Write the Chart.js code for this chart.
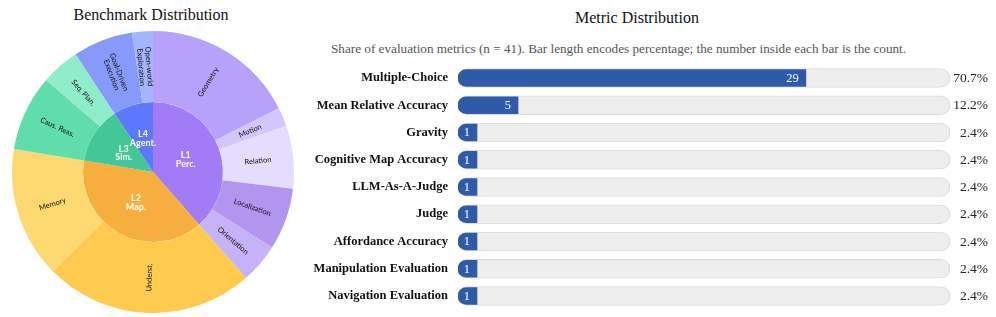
<!DOCTYPE html>
<html><head><meta charset="utf-8">
<script src="https://cdn.jsdelivr.net/npm/chart.js@4.4.1/dist/chart.umd.min.js"></script>
<style>
html,body{margin:0;padding:0;background:#fff;}
body{width:996px;height:317px;position:relative;overflow:hidden;font-family:"Liberation Serif","Times New Roman",serif;}
.t{position:absolute;white-space:nowrap;color:#111;line-height:18px;}
#t1{left:0;width:302px;top:6px;text-align:center;font-size:16px;}
#t2{left:575px;top:9px;font-size:16px;}
#sub{left:331px;top:41px;font-size:13.2px;color:#555;line-height:16px;}
#c1{position:absolute;left:12px;top:31px;}
#c2{position:absolute;left:300px;top:0;}
</style></head>
<body>
<div class="t" id="t1">Benchmark Distribution</div>
<div class="t" id="t2">Metric Distribution</div>
<div class="t" id="sub">Share of evaluation metrics (n = 41). Bar length encodes percentage; the number inside each bar is the count.</div>
<canvas id="c1" width="282" height="282"></canvas>
<canvas id="c2" width="696" height="330"></canvas>
<script>
// ---- Benchmark sunburst data (share of benchmarks, %) ----
const levelNames = ['L1\nPerc.', 'L2\nMap.', 'L3\nSim.', 'L4\nAgent.'];
const levelShares = [38.56, 39.06, 13.13, 9.25];
const levelColors = ['#A27CF6', '#F6AF3C', '#43C797', '#5C78FC'];

const subNames = ['Geometry', 'Motion', 'Relation', 'Localization', 'Orientation',
  'Underst.', 'Memory', 'Caus. Reas.', 'Seq. Plan.', 'Goal-Driven\nExecution', 'Open-world\nExploration'];
const subShares = [17.53, 2.19, 7.17, 7.11, 4.56, 24.0, 15.06, 8.69, 4.44, 6.86, 2.39];
const subColors = ['#B7A1FA', '#D3C6FC', '#E4DDFE', '#B295EE', '#C6B2F6',
  '#FECB4F', '#FED870', '#5FDDAB', '#90EDC9', '#8899FC', '#A4B4FD'];

// ---- Metric distribution data ----
const metricNames = ['Multiple-Choice', 'Mean Relative Accuracy', 'Gravity', 'Cognitive Map Accuracy',
  'LLM-As-A-Judge', 'Judge', 'Affordance Accuracy', 'Manipulation Evaluation', 'Navigation Evaluation'];
const metricCounts = [29, 5, 1, 1, 1, 1, 1, 1, 1];
const metricShares = [70.7, 12.2, 2.4, 2.4, 2.4, 2.4, 2.4, 2.4, 2.4];
const metricShareLabels = ['70.7%', '12.2%', '2.4%', '2.4%', '2.4%', '2.4%', '2.4%', '2.4%', '2.4%'];
const trackFull = [100, 100, 100, 100, 100, 100, 100, 100, 100];

const sunLabels = {
  id: 'sunLabels',
  afterDatasetsDraw(chart) {
    const ctx = chart.ctx;
    chart.data.datasets.forEach((ds, di) => {
      const meta = chart.getDatasetMeta(di);
      meta.data.forEach((arc, i) => {
        const p = arc.getProps(['x', 'y', 'startAngle', 'endAngle', 'innerRadius', 'outerRadius'], true);
        const mid = (p.startAngle + p.endAngle) / 2;
        const lines = (di === 0 ? subNames[i] : levelNames[i]).split('\n');
        ctx.save();
        let lh;
        if (di === 0) {
          const r = (p.innerRadius + p.outerRadius) / 2;
          ctx.translate(p.x + Math.cos(mid) * r, p.y + Math.sin(mid) * r);
          let rot = mid;
          if (rot > Math.PI / 2) rot -= Math.PI;
          ctx.rotate(rot);
          ctx.font = '7.5px Lato';
          ctx.fillStyle = '#111';
          lh = 8;
        } else {
          const r = p.outerRadius * 0.5;
          ctx.translate(p.x + Math.cos(mid) * r, p.y + Math.sin(mid) * r);
          ctx.font = 'bold 9px Lato';
          ctx.fillStyle = '#ffffff';
          lh = 8.5;
        }
        ctx.textAlign = 'center';
        ctx.textBaseline = 'middle';
        const off = (lines.length - 1) * lh / 2;
        lines.forEach((ln, k) => ctx.fillText(ln, 0, k * lh - off));
        ctx.restore();
      });
    });
  }
};

new Chart(document.getElementById('c1'), {
  type: 'pie',
  data: {
    labels: subNames,
    datasets: [
      { data: subShares, backgroundColor: subColors, borderWidth: 0, weight: 71 },
      { data: levelShares, backgroundColor: levelColors, borderWidth: 0, weight: 70 }
    ]
  },
  options: {
    responsive: false, animation: false,
    layout: { padding: 0 },
    plugins: { legend: { display: false }, tooltip: { enabled: false } }
  },
  plugins: [sunLabels]
});

const barText = {
  id: 'barText',
  afterDatasetsDraw(chart) {
    const ctx = chart.ctx;
    const fill = chart.getDatasetMeta(0).data;
    const track = chart.getDatasetMeta(1).data;
    ctx.save();
    ctx.textBaseline = 'middle';
    fill.forEach((b, i) => {
      ctx.font = '12.5px "Liberation Serif"';
      ctx.fillStyle = '#ffffff';
      ctx.textAlign = 'right';
      ctx.fillText(String(metricCounts[i]), b.x - 7, b.y + 0.5);
    });
    track.forEach((b, i) => {
      ctx.font = '13.5px "Liberation Serif"';
      ctx.fillStyle = '#222';
      ctx.textAlign = 'right';
      ctx.fillText(metricShareLabels[i], b.x + 38, b.y + 0.5);
    });
    ctx.restore();
  }
};

new Chart(document.getElementById('c2'), {
  type: 'bar',
  data: {
    labels: metricNames,
    datasets: [
      { data: metricShares, backgroundColor: '#2E5AA7', borderWidth: 0,
        borderRadius: { topLeft: 9, bottomLeft: 9, topRight: 0, bottomRight: 0 },
        borderSkipped: false, barThickness: 17, minBarLength: 19, grouped: false, order: 1 },
      { data: trackFull, backgroundColor: '#EEEEEE', borderColor: '#DCDCDC', borderWidth: 1,
        borderRadius: 9.5, borderSkipped: false, barThickness: 19, grouped: false, order: 2 }
    ]
  },
  options: {
    indexAxis: 'y', responsive: false, animation: false,
    layout: { padding: { left: 0, right: 46, top: 64.4, bottom: 20.4 } },
    scales: {
      x: { display: false, min: 0, max: 100 },
      y: {
        grid: { display: false, drawTicks: false }, border: { display: false },
        ticks: { padding: 10, color: '#111', font: { family: '"Liberation Serif"', size: 12.5, weight: 'bold' } },
        afterFit(s) { s.width = 158; }
      }
    },
    plugins: { legend: { display: false }, tooltip: { enabled: false } }
  },
  plugins: [barText]
});
</script>
</body></html>
